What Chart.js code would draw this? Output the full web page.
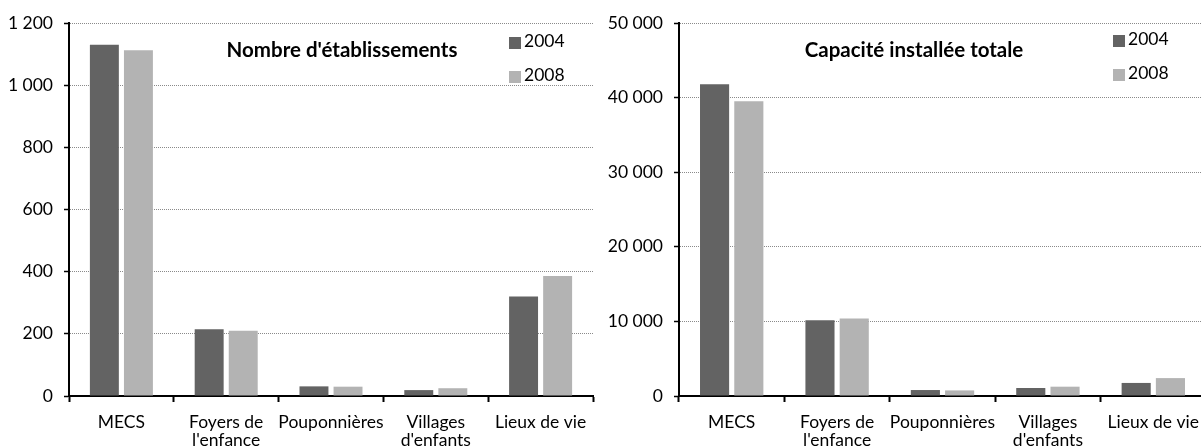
<!DOCTYPE html>
<html>
<head>
<meta charset="utf-8">
<script src="https://cdn.jsdelivr.net/npm/chart.js@4.4.1/dist/chart.umd.min.js"></script>
<style>
  html, body { margin:0; padding:0; background:#fff; overflow:hidden; }
  #wrap { position:relative; width:1201px; height:448px; overflow:hidden; }
  canvas { position:absolute; top:0; }
</style>
</head>
<body>
<div id="wrap">
  <canvas id="c1" width="600" height="448" style="left:0"></canvas>
  <canvas id="c2" width="612" height="448" style="left:600px"></canvas>
</div>
<script>
// ---- data ----
const categories = ['MECS', ['Foyers de', "l'enfance"], 'Pouponnières', ['Villages', "d'enfants"], 'Lieux de vie'];
const seriesLabels = ['2004', '2008'];
const etab2004 = [1130, 215, 31, 19, 320];
const etab2008 = [1112, 210, 30, 25, 386];
const cap2004 = [41800, 10150, 800, 1070, 1750];
const cap2008 = [39500, 10380, 750, 1250, 2400];
const titles = ["Nombre d'établissements", 'Capacité installée totale'];

// ---- styles ----
const FONT = 'Lato, "DejaVu Sans", sans-serif';
const colors = ['#636363', '#b3b3b3'];
const fmt = v => String(v).replace(/\B(?=(\d{3})+(?!\d))/g, '\u00a0');

const overlay = {
  id: 'overlay',
  afterDraw(chart, args, o) {
    const ctx = chart.ctx;
    ctx.save();
    ctx.fillStyle = '#000';
    ctx.font = 'bold 20.5px ' + FONT;
    ctx.textAlign = 'center';
    ctx.textBaseline = 'middle';
    ctx.fillText(o.title, o.titleX, o.titleY);
    ctx.font = '17.5px ' + FONT;
    ctx.textAlign = 'left';
    chart.data.datasets.forEach((ds, i) => {
      const y = o.legendY[i];
      ctx.fillStyle = ds.backgroundColor;
      ctx.fillRect(o.legendX, y, 12, 12);
      ctx.fillStyle = '#000';
      ctx.fillText(ds.label, o.legendX + 15, y + 4);
    });
    ctx.restore();
  }
};

function makeChart(id, d1, d2, yMax, yStep, yWidth, padRight, ov) {
  return new Chart(document.getElementById(id), {
    type: 'bar',
    data: {
      labels: categories,
      datasets: [
        { label: seriesLabels[0], data: d1, backgroundColor: colors[0] },
        { label: seriesLabels[1], data: d2, backgroundColor: colors[1] }
      ]
    },
    options: {
      responsive: false,
      animation: false,
      devicePixelRatio: 1,
      categoryPercentage: 0.65,
      barPercentage: 0.85,
      layout: { padding: { top: 23, right: padRight, left: 0, bottom: 0 } },
      plugins: { legend: { display: false }, tooltip: { enabled: false }, overlay: ov },
      scales: {
        x: {
          afterFit: s => { s.height = 52; },
          grid: { offset: true, drawOnChartArea: false, drawTicks: true, tickLength: 6, tickColor: '#000', tickWidth: 2 },
          border: { display: true, color: '#000', width: 2 },
          ticks: { color: '#000', padding: 11, maxRotation: 0, autoSkip: false, font: { family: FONT, size: 17.5, lineHeight: 1.06 } }
        },
        y: {
          min: 0, max: yMax,
          afterFit: s => { s.width = yWidth; },
          grid: { color: '#8a8a8a', lineWidth: 1, drawTicks: true, tickLength: 5, tickColor: '#000', tickWidth: 1.5, tickBorderDash: [] },
          border: { display: true, color: '#000', width: 2, dash: [1, 1] },
          ticks: { stepSize: yStep, color: '#000', padding: 11, callback: v => fmt(v), font: { family: FONT, size: 17.5 } }
        }
      }
    },
    plugins: [overlay]
  });
}

makeChart('c1', etab2004, etab2008, 1200, 200, 69, 7,
  { title: titles[0], titleX: 342, titleY: 50, legendX: 509, legendY: [37, 71] });
makeChart('c2', cap2004, cap2008, 50000, 10000, 79, 6,
  { title: titles[1], titleX: 314, titleY: 50, legendX: 513, legendY: [35, 69] });
</script>
</body>
</html>
